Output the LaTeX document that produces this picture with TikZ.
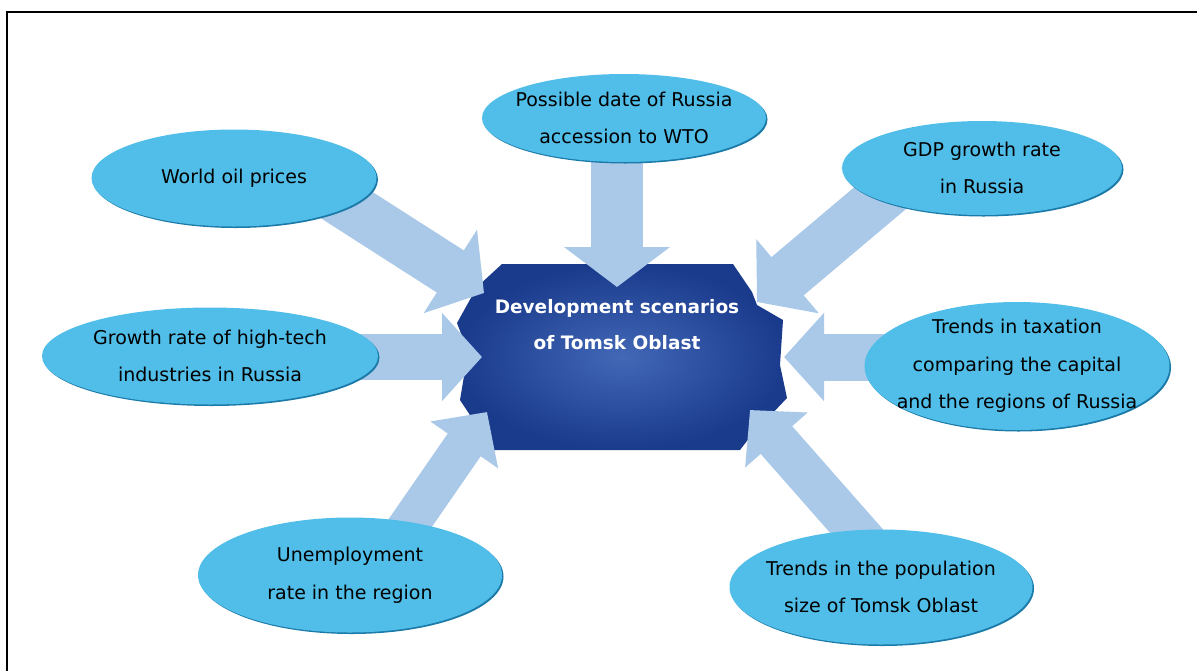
\documentclass[tikz,border=0pt]{standalone}
\usepackage{fontspec}
\setmainfont{DejaVu Sans}
\usetikzlibrary{shapes.geometric,arrows.meta,shadows}
\definecolor{skyfill}{RGB}{80,190,232}
\definecolor{skyedge}{RGB}{28,122,168}
\definecolor{arrowblue}{RGB}{170,201,232}
\definecolor{navy}{RGB}{26,58,140}
\definecolor{midblue}{RGB}{66,104,182}
\pgfdeclarelayer{back}
\pgfdeclarelayer{mid}
\pgfsetlayers{back,mid,main}
\begin{document}
\begin{tikzpicture}[x=1pt,y=-1pt]
\tikzstyle{every node}+=[inner sep=0pt, font=\fontsize{19}{37.5}\selectfont]
\tikzstyle{factor}=[ellipse, inner sep=-20pt, fill=skyfill, align=center, drop shadow={shadow xshift=1.5pt, shadow yshift=-1.5pt, fill=skyedge, opacity=1}]
\tikzset{push/.style 2 args={draw=arrowblue, line width=#1, -{Triangle[width=#2,length=40pt]}, shorten <=-60pt}}
\useasboundingbox (0,0) rectangle (1197,670);
\clip (0,0) rectangle (1197,670);
\draw [line width=2.5pt] (7,700) -- (7,12) -- (1220,12);
% factors
\node [factor, minimum width=284, minimum height=88] (wto) at (624,118) {Possible date of Russia\\accession to WTO};
\node [factor, minimum width=285, minimum height=97] (oil) at (234,178) {World oil prices};
\node [factor, minimum width=280, minimum height=94] (gdp) at (982,168) {GDP growth rate\\in Russia};
\node [factor, minimum width=336, minimum height=97] (tech) at (210,356) {Growth rate of high-tech\\industries in Russia};
\node [factor, minimum width=305, minimum height=128] (tax) at (1017,366) {Trends in taxation\\comparing the capital\\and the regions of Russia};
\node [factor, minimum width=304, minimum height=115] (unemp) at (350,575) {Unemployment\\rate in the region};
\node [factor, minimum width=303, minimum height=115] (pop) at (881,587) {Trends in the population\\size of Tomsk Oblast};
% centre
\node [font=\bfseries\fontsize{18.5}{36}\selectfont, text=white, align=center] (scen) at (617,325) {Development scenarios\\of Tomsk Oblast};
\begin{pgfonlayer}{back}
\shade [inner color=midblue, outer color=navy] (502,264) -- (733,264) -- (752,292) -- (757,305) -- (783,320) -- (780,365) -- (787,398) -- (750,437) -- (740,450) -- (493,450) -- (460,400) -- (468,352) -- (457,323) -- (477,287) -- cycle;
\end{pgfonlayer}
% arrows
\begin{pgfonlayer}{mid}
\coordinate (twto) at (617,287);
\coordinate (toil) at (484,293);
\coordinate (tgdp) at (757,302);
\coordinate (ttech) at (482,357);
\coordinate (ttax) at (784,357);
\coordinate (tune) at (487,412);
\coordinate (tpop) at (750,410);
\draw [push={52pt}{104pt}, shorten <=0pt] (wto.center -| twto) -- (twto);
\draw [push={50pt}{97pt}] (oil.-14) -- (toil);
\draw [push={50pt}{95pt}] (gdp.197) -- (tgdp);
\draw [push={46pt}{86pt}, shorten <=0pt] (tech.center |- ttech) -- (ttech);
\draw [push={47pt}{86pt}, shorten <=0pt] (tax.center |- ttax) -- (ttax);
\draw [push={40pt}{80pt}] (unemp.41.5) -- (tune);
\draw [push={42pt}{81pt}] (pop.114.5) -- (tpop);
\end{pgfonlayer}
\end{tikzpicture}
\end{document}
